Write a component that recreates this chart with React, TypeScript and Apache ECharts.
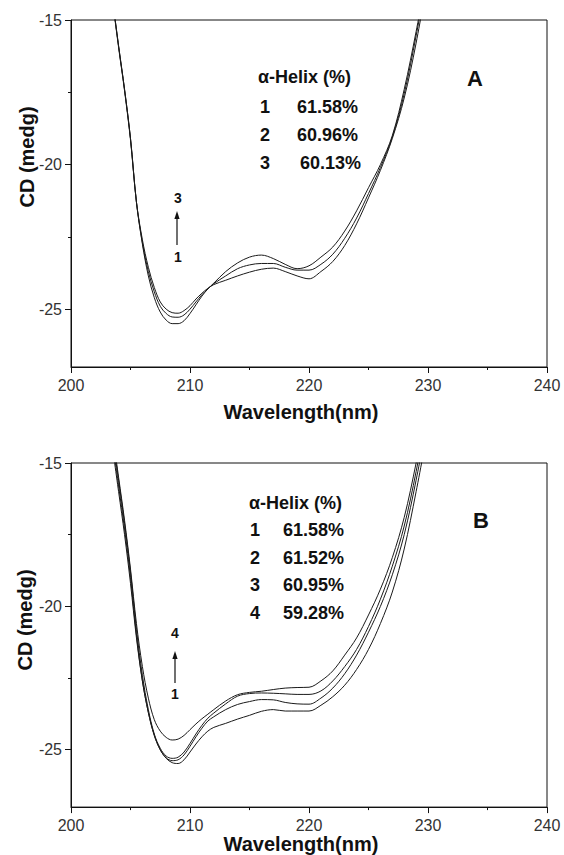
import React, { useEffect, useRef } from "react";
import * as echarts from "echarts";

const FONT = '"Liberation Sans", Arial, Helvetica, sans-serif';

// Wavelength grid (nm), shared by all curves
const WL = [203.4, 204, 204.5, 205, 205.5, 206, 206.5, 207, 207.5, 208, 208.5, 209, 209.5, 210, 210.5, 211, 211.5, 212, 213, 214, 215, 216, 217, 218, 219, 220, 221, 222, 223, 224, 225, 226, 227, 228, 229, 230];

// Panel A – CD (mdeg)
const A1 = [-14.0, -15.9, -17.4, -19.1, -21.3, -22.75, -23.85, -24.6, -25.1, -25.38, -25.5, -25.5, -25.4, -25.15, -24.85, -24.55, -24.3, -24.1, -23.7, -23.4, -23.2, -23.13, -23.25, -23.45, -23.6, -23.5, -23.2, -22.85, -22.3, -21.6, -20.8, -20.0, -19.0, -17.4, -15.4, -13.2];
const A2 = [-14.0, -15.9, -17.4, -19.1, -21.3, -22.7, -23.7, -24.4, -24.9, -25.15, -25.27, -25.28, -25.2, -25.0, -24.75, -24.5, -24.3, -24.12, -23.85, -23.6, -23.47, -23.42, -23.42, -23.55, -23.65, -23.65, -23.45, -23.1, -22.55, -21.85, -21.0, -20.1, -19.05, -17.55, -15.55, -13.3];
const A3 = [-14.05, -15.95, -17.45, -19.15, -21.3, -22.6, -23.55, -24.25, -24.75, -25.0, -25.12, -25.14, -25.05, -24.88, -24.65, -24.45, -24.28, -24.15, -24.0, -23.85, -23.72, -23.62, -23.58, -23.7, -23.85, -23.95, -23.7, -23.35, -22.8, -22.05, -21.15, -20.2, -19.1, -17.7, -15.8, -13.5];

// Panel B – CD (mdeg)
const B1 = [-14.2, -16.0, -17.5, -19.2, -21.1, -22.6, -23.7, -24.5, -25.0, -25.3, -25.45, -25.48, -25.35, -25.08, -24.8, -24.55, -24.35, -24.22, -24.08, -23.93, -23.8, -23.66, -23.6, -23.65, -23.65, -23.65, -23.45, -23.15, -22.75, -22.2, -21.5, -20.6, -19.5, -18.0, -16.0, -13.8];
const B2 = [-14.0, -15.8, -17.3, -19.0, -21.0, -22.6, -23.7, -24.5, -25.0, -25.28, -25.38, -25.35, -25.18, -24.88, -24.55, -24.25, -24.0, -23.85, -23.6, -23.42, -23.32, -23.25, -23.26, -23.35, -23.4, -23.41, -23.2, -22.85, -22.35, -21.7, -20.9, -20.0, -18.9, -17.5, -15.6, -13.4];
const B3 = [-13.8, -15.6, -17.1, -18.8, -20.8, -22.4, -23.6, -24.45, -24.95, -25.22, -25.3, -25.26, -25.08, -24.78, -24.45, -24.15, -23.9, -23.72, -23.4, -23.13, -23.04, -23.02, -23.03, -23.05, -23.07, -23.07, -22.95, -22.6, -22.1, -21.5, -20.7, -19.75, -18.6, -17.2, -15.3, -13.0];
const B4 = [-13.7, -15.5, -17.0, -18.7, -20.6, -22.1, -23.2, -23.95, -24.35, -24.57, -24.66, -24.63, -24.5, -24.3, -24.1, -23.92, -23.76, -23.6, -23.3, -23.08, -23.0, -22.96, -22.9, -22.85, -22.83, -22.82, -22.6, -22.25, -21.7, -21.1, -20.3, -19.4, -18.3, -16.9, -15.0, -12.8];

const X_TICKS = [200, 210, 220, 230, 240];
const Y_LABELS = [-25, -20, -15];
const Y_MINOR = [-22.5, -17.5];

const HELIX_A = [["1", "61.58%"], ["2", "60.96%"], ["3", "60.13%"]];
const HELIX_B = [["1", "61.58%"], ["2", "61.52%"], ["3", "60.95%"], ["4", "59.28%"]];

const pairs = (ys: number[]) => WL.map((x, i) => [x, ys[i]]);

export default function App() {
  const ref = useRef<HTMLDivElement>(null);
  useEffect(() => {
    document.body.style.margin = "0";
    if (!ref.current) return;
    const chart = echarts.init(ref.current, undefined, { renderer: "svg" });

    const grids = [
      { left: 71, top: 20, width: 476, height: 347 },
      { left: 71, top: 463, width: 476, height: 348 },
    ].map((g) => ({ ...g, show: true, borderColor: "#111", borderWidth: 1, backgroundColor: "transparent" }));

    const xAxis = [0, 1].map((gi) => ({
      gridIndex: gi,
      type: "value",
      min: X_TICKS[0],
      max: X_TICKS[X_TICKS.length - 1],
      interval: 10,
      name: "Wavelength(nm)",
      nameLocation: "middle",
      nameGap: gi === 0 ? 35 : 24,
      nameTextStyle: { fontFamily: FONT, fontSize: 20, fontWeight: "bold", color: "#111", padding: [0, 16, 0, 0] },
      axisLine: { show: true, onZero: false, lineStyle: { color: "#111", width: 1 } },
      axisTick: { show: true, inside: false, length: 6, lineStyle: { color: "#111" } },
      minorTick: { show: true, splitNumber: 2, length: 3, lineStyle: { color: "#111" } },
      splitLine: { show: false },
      minorSplitLine: { show: false },
      axisLabel: { fontFamily: FONT, fontSize: 16, color: "#333", margin: 10 },
    }));

    const yAxis: any[] = [];
    [0, 1].forEach((gi) => {
      yAxis.push({
        gridIndex: gi,
        type: "value",
        min: -27,
        max: -15,
        position: "left",
        axisLine: { show: true, onZero: false, lineStyle: { color: "#111", width: 1 } },
        axisTick: { show: true, inside: false, length: 6, customValues: Y_LABELS, lineStyle: { color: "#111" } },
        axisLabel: { fontFamily: FONT, fontSize: 16, color: "#333", margin: 9, customValues: Y_LABELS },
        splitLine: { show: false },
      });
      yAxis.push({
        gridIndex: gi,
        type: "value",
        min: -27,
        max: -15,
        position: "left",
        offset: 0,
        axisLine: { show: false, onZero: false },
        axisTick: { show: true, inside: false, length: 3, customValues: Y_MINOR, lineStyle: { color: "#111" } },
        axisLabel: { show: false },
        splitLine: { show: false },
      });
    });

    const lineStyle = { color: "#1a1a1a", width: 1 };
    const mk = (name: string, ys: number[], gi: number) => ({
      name,
      type: "line",
      xAxisIndex: gi,
      yAxisIndex: gi * 2,
      data: pairs(ys),
      showSymbol: false,
      symbol: "none",
      smooth: 0.35,
      clip: true,
      lineStyle,
    });

    const series = [
      mk("A1", A1, 0), mk("A2", A2, 0), mk("A3", A3, 0),
      mk("B1", B1, 1), mk("B2", B2, 1), mk("B3", B3, 1), mk("B4", B4, 1),
    ];

    const txt = (text: string, x: number, y: number, size: number, align = "left", extra: any = {}) => ({
      type: "text",
      x,
      y,
      ...extra,
      style: {
        text,
        font: `bold ${size}px ${FONT}`,
        fill: "#111",
        textAlign: align,
        textVerticalAlign: "middle",
        align,
        verticalAlign: "middle",
      },
    });

    const arrow = (x: number, yTip: number, yBot: number) => [
      { type: "line", shape: { x1: x, y1: yBot, x2: x, y2: yTip + 6 }, style: { stroke: "#111", lineWidth: 1.2 } },
      { type: "polygon", shape: { points: [[x, yTip], [x - 2.6, yTip + 8], [x + 2.6, yTip + 8]] }, style: { fill: "#111" } },
    ];

    const graphic: any[] = [
      // Panel A
      txt("CD (medg)", 27, 157, 20, "center", { rotation: Math.PI / 2 }),
      txt("α-Helix (%)", 258, 77, 18),
      ...HELIX_A.flatMap(([n, v], i) => [
        txt(n, 260, 107 + i * 28, 18),
        txt(v, i === 2 ? 300 : 297, 107 + i * 28, 18),
      ]),
      txt("A", 475, 78, 22, "center"),
      txt("3", 178, 198, 14, "center"),
      ...arrow(177, 211, 245),
      txt("1", 178, 257, 14, "center"),
      // Panel B
      txt("CD (medg)", 25, 620, 20, "center", { rotation: Math.PI / 2 }),
      txt("α-Helix (%)", 249, 503, 18),
      ...HELIX_B.flatMap(([n, v], i) => [
        txt(n, 250, 530 + i * 27.7, 18),
        txt(v, 283, 530 + i * 27.7, 18),
      ]),
      txt("B", 481, 520, 22, "center"),
      txt("4", 175, 633, 14, "center"),
      ...arrow(175, 651, 683),
      txt("1", 175, 694, 14, "center"),
    ];

    chart.setOption({
      animation: false,
      backgroundColor: "#fff",
      grid: grids,
      xAxis,
      yAxis,
      series,
      graphic,
    });
    return () => chart.dispose();
  }, []);
  return <div ref={ref} style={{ width: 564, height: 855 }} />;
}
